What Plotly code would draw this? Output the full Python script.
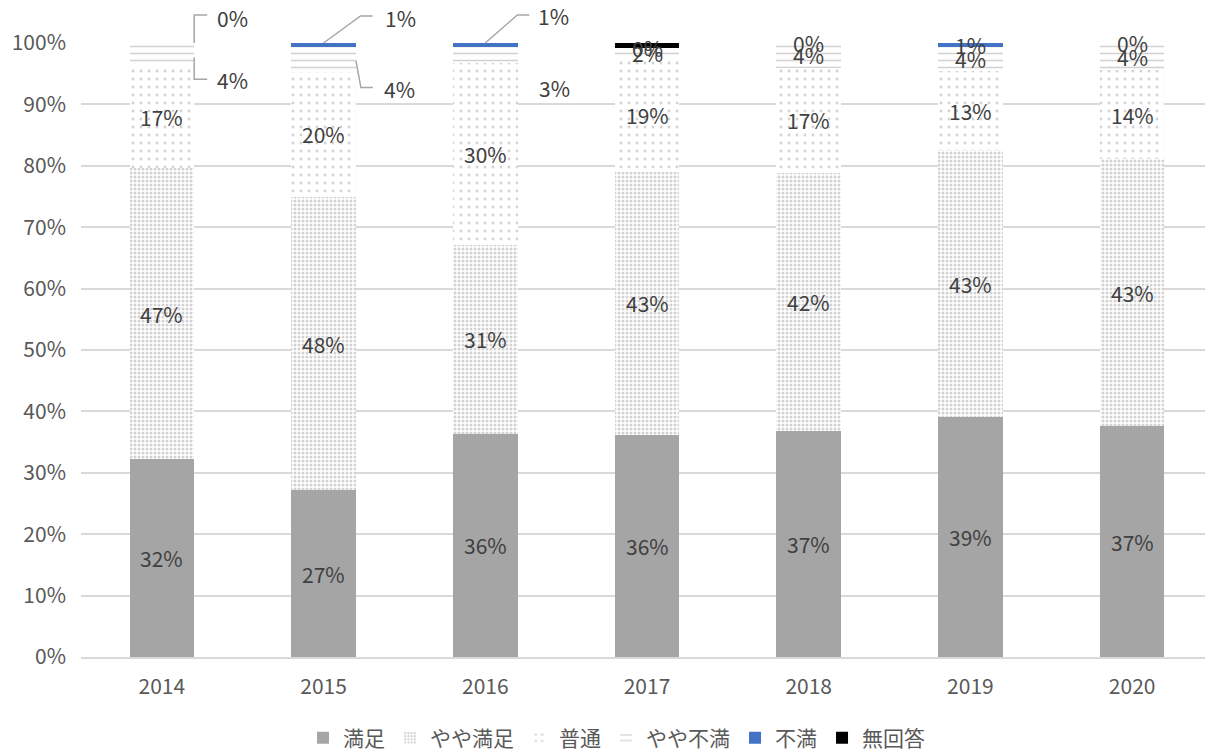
import plotly.graph_objects as go

# ---------------- data ----------------
years = ["2014", "2015", "2016", "2017", "2018", "2019", "2020"]
series_names = ["満足", "やや満足", "普通", "やや不満", "不満", "無回答"]

satisfied = [32.2, 27.2, 36.4, 36.2, 36.8, 39.1, 37.4]
somewhat_satisfied = [47.4, 47.7, 30.7, 42.8, 42.0, 43.4, 43.4]
neutral = [16.7, 20.4, 29.6, 18.6, 17.2, 12.9, 14.4]
somewhat_dissatisfied = [3.7, 4.0, 2.6, 1.6, 4.0, 3.9, 4.4]
dissatisfied = [0.0, 0.7, 0.7, 0.0, 0.0, 0.7, 0.0]
no_answer = [0.0, 0.0, 0.0, 0.8, 0.0, 0.0, 0.0]

y_tick_values = [0, 10, 20, 30, 40, 50, 60, 70, 80, 90, 100]

series_values = [satisfied, somewhat_satisfied, neutral,
                 somewhat_dissatisfied, dissatisfied, no_answer]

# ---------------- styles ----------------
FONT = "Noto Sans CJK JP"
GRAY = "#a5a5a5"
styles = [
    dict(color=GRAY),
    dict(color="white", pattern=dict(shape=".", fgcolor=GRAY, bgcolor="white", size=4, solidity=0.45)),
    dict(color="white", pattern=dict(shape=".", fgcolor=GRAY, bgcolor="white", size=8, solidity=0.1)),
    dict(color="white", pattern=dict(shape="-", fgcolor=GRAY, bgcolor="white", size=7, solidity=0.22)),
    dict(color="#4472c4"),
    dict(color="#000000"),
]

x_idx = list(range(len(years)))
X_RANGE = [-0.5, len(years) - 0.5]
Y_RANGE = [0, 100]

fig = go.Figure()
for name, vals, st in zip(series_names, series_values, styles):
    fig.add_trace(go.Bar(
        x=x_idx, y=vals, name=name,
        marker=dict(line=dict(width=0), **st),
        hoverinfo="skip",
    ))

# normalized cumulative bounds (bars are drawn with barnorm='percent')
totals = [sum(s[i] for s in series_values) for i in x_idx]


def bounds(si, i):
    bottom = sum(series_values[k][i] for k in range(si)) / totals[i] * 100
    top = bottom + series_values[si][i] / totals[i] * 100
    return bottom, top


def label(v):
    return f"{round(v)}%"


def x_paper(x):
    return (x - X_RANGE[0]) / (X_RANGE[1] - X_RANGE[0])


def y_paper(y):
    return (y - Y_RANGE[0]) / (Y_RANGE[1] - Y_RANGE[0])


annotations = []
shapes = []
LABEL_FONT = dict(family=FONT, size=21, color="#404040")

# centered labels for the three large series
for si in range(3):
    for i in x_idx:
        b, t = bounds(si, i)
        annotations.append(dict(x=i, y=(b + t) / 2, xref="x", yref="y",
                                text=label(series_values[si][i]), showarrow=False,
                                font=LABEL_FONT))

# small-series labels: centered for 2017-2020
for i in range(3, 7):
    for si in (3, 4):
        b, t = bounds(si, i)
        annotations.append(dict(x=i, y=(b + t) / 2, xref="x", yref="y",
                                text=label(series_values[si][i]), showarrow=False,
                                font=LABEL_FONT))

# callouts for 2014-2016: (year index, series index, anchor x offset, anchor point, path, xshift, yshift)
callouts = [
    (0, 4, 0.2, "top", "M0,0 L0,28 L13,28", 21, 25),
    (0, 3, 0.2, "mid", "M0,-3 L0,-25 L13,-25", 21, -26),
    (1, 4, 0.0, "top", "M0,0 L37,27 L49,27", 59, 25),
    (1, 3, 0.2, "mid", "M0,-1 L5,-28 L17,-28", 26, -29),
    (2, 4, 0.0, "top", "M0,0 L32,28 L44,28", 51, 27),
    (2, 3, 0.2, "mid", None, 19, -33),
]
for i, si, dx, where, path, xs, ys in callouts:
    b, t = bounds(si, i)
    ya = t if where == "top" else (b + t) / 2
    xa = i + dx
    if path:
        shapes.append(dict(type="path", xref="paper", yref="paper",
                           xsizemode="pixel", ysizemode="pixel",
                           xanchor=x_paper(xa), yanchor=y_paper(ya), path=path,
                           line=dict(color="#a6a6a6", width=1.5), layer="above"))
    annotations.append(dict(x=xa, y=ya, xref="x", yref="y", text=label(series_values[si][i]),
                            showarrow=False, xanchor="left", yanchor="middle",
                            xshift=xs, yshift=ys, font=LABEL_FONT))

fig.update_layout(
    barmode="stack",
    barnorm="percent",
    bargap=0.6,
    width=1205, height=745,
    margin=dict(l=73, r=0, t=35, b=96),
    plot_bgcolor="white", paper_bgcolor="white",
    font=dict(family=FONT, size=21, color="#595959"),
    xaxis=dict(range=X_RANGE, tickmode="array", tickvals=x_idx, ticktext=years,
               showgrid=False, zeroline=False, showline=True, linecolor="#d9d9d9", linewidth=1.5,
               ticks="", ticklabelstandoff=10, tickfont=dict(size=21, color="#595959")),
    yaxis=dict(range=Y_RANGE, tickmode="array", tickvals=y_tick_values,
               ticktext=[f"{v}%" for v in y_tick_values],
               showgrid=True, gridcolor="#d9d9d9", gridwidth=1.5, zeroline=False,
               ticks="", ticklabelstandoff=14, tickfont=dict(size=21, color="#595959")),
    legend=dict(orientation="h", xref="container", yref="container", x=0.505, y=0.02,
                xanchor="center", yanchor="middle", font=dict(size=21, color="#595959"),
                traceorder="normal"),
    annotations=annotations,
    shapes=shapes,
)

fig.write_html("out.html")
